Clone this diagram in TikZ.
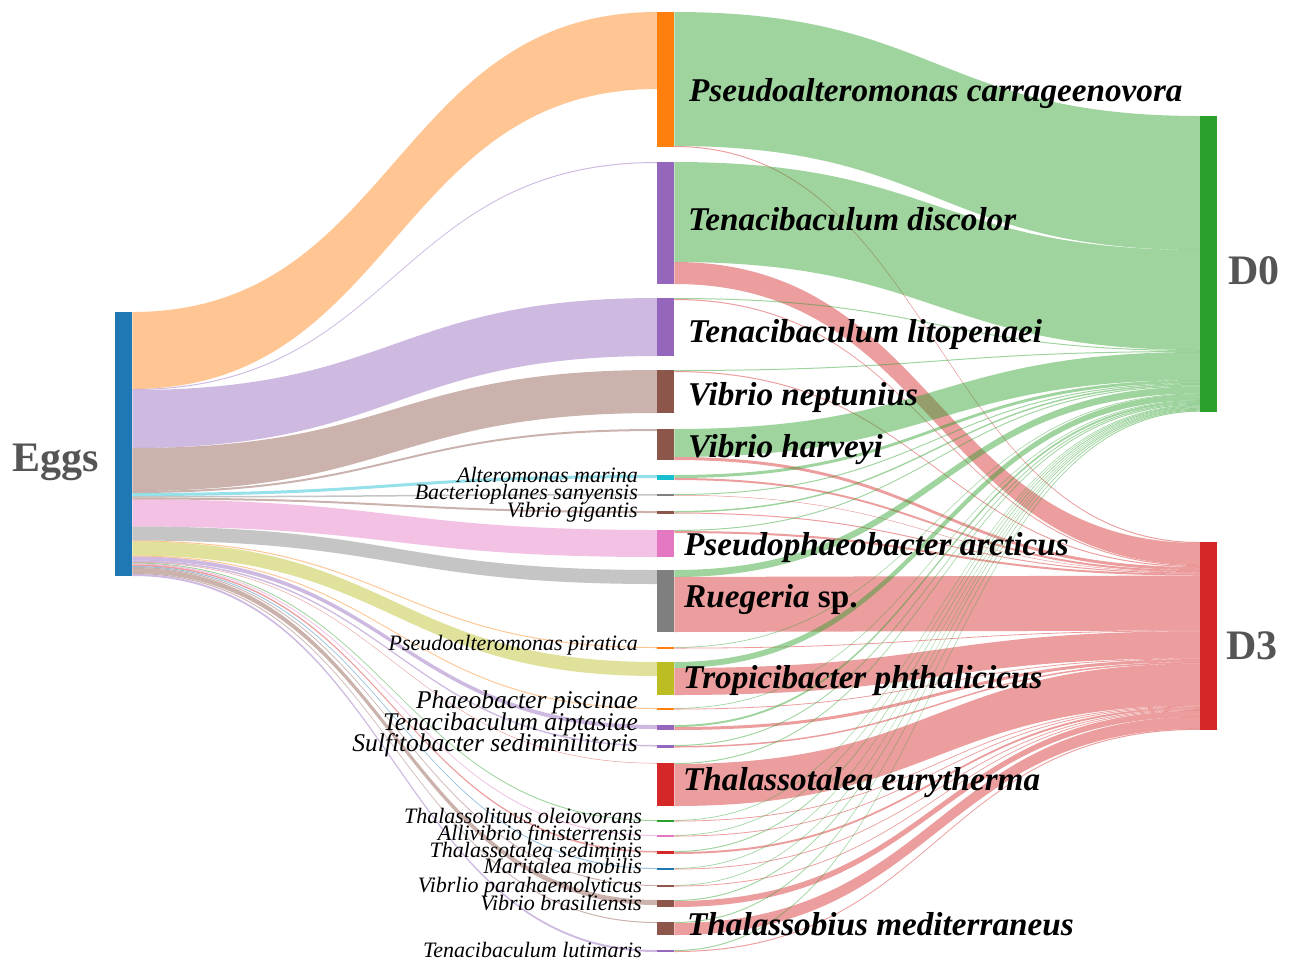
\documentclass[tikz,border=0pt]{standalone}
\usepackage{fontspec}
\setmainfont{Liberation Serif}

\definecolor{cblue}{HTML}{1F77B4}
\definecolor{corange}{HTML}{FF7F0E}
\definecolor{cgreen}{HTML}{2CA02C}
\definecolor{cred}{HTML}{D62728}
\definecolor{cpurple}{HTML}{9467BD}
\definecolor{cbrown}{HTML}{8C564B}
\definecolor{cpink}{HTML}{E377C2}
\definecolor{cgrey}{HTML}{7F7F7F}
\definecolor{colive}{HTML}{BCBD22}
\definecolor{ccyan}{HTML}{17BECF}
\definecolor{sidegrey}{HTML}{555555}

\tikzset{
  bar/.style={draw=none, inner sep=0pt, minimum width=17pt, anchor=north west},
  big/.style={anchor=base west, inner sep=0pt, font=\fontsize{33.2}{35}\selectfont\bfseries\itshape},
  small/.style={anchor=base east, inner sep=0pt, font=\fontsize{22}{24}\selectfont\itshape},
  medium/.style={anchor=base east, inner sep=0pt, font=\fontsize{25.5}{27}\selectfont\itshape},
  side/.style={anchor=base west, inner sep=0pt, text=sidegrey, font=\fontsize{42}{44}\selectfont\bfseries}
}

% band from #1 (top at y=#2) to #3 (top at y=#4), width #5, colour #6
\newcommand\flow[6]{%
  \fill[#6, fill opacity=.45]
    (#1.east |- 0,{#2}) .. controls +(263,0) and +(-263,0) .. (#3.west |- 0,{#4})
    -- ++(0,#5) .. controls +(-263,0) and +(263,0) .. (#1.east |- 0,{#2+#5}) -- cycle;}

\begin{document}
\begin{tikzpicture}[x=1pt,y=-1pt]
  \fill[white] (0,0) rectangle (1290,962);
  \useasboundingbox (0,0) rectangle (1290,962);

  \node[bar, fill=cblue, minimum height=264pt] (eggs) at (115,312) {};
  \node[bar, fill=cgreen, minimum height=295.7pt] (dzero) at (1200,116) {};
  \node[bar, fill=cred, minimum height=187.8pt] (dthree) at (1200,542) {};

  \gdef\eggy{312}\gdef\dzy{116}\gdef\dty{542}
  % name / colour / top / from eggs / to D0 / to D3
  \foreach \n/\cl/\yt/\ve/\vz/\vt in {
      pcar/corange/12/77/134/1, tdis/cpurple/162/1/100/22,
      tlit/cpurple/298/58/1/1, vnep/cbrown/370/43/1/1,
      vhar/cbrown/429/2/28/3, amar/ccyan/475/3/3/2,
      bsan/cgrey/494/1.5/1/.5, vgig/cbrown/511/2/1.5/1,
      parc/cpink/530/27/1/2, rueg/cgrey/570/14/7/55,
      ppir/corange/647/1/.7/.8, trop/colive/662/14/6/27,
      ppis/corange/708/1/.7/.8, tait/cpurple/725/4/2/3,
      ssed/cpurple/745/1.5/1/1.5, teur/cred/763/.5/1/42,
      tole/cgreen/820/1/.7/.8, afin/cpink/835/1/.7/.8,
      tsed/cred/851/1.5/1/2, mmob/cblue/868/1/.7/.8,
      vpar/cbrown/885/1/.7/.8, vbra/cbrown/900/5/1/6,
      tmed/cbrown/922/1/1/12, tlut/cpurple/950/2/1/1}
  {
    \pgfmathsetmacro\h{max(\ve,\vz+\vt)}
    \node[bar, fill=\cl, minimum height=\h pt] (\n) at (657,\yt) {};
    \flow{eggs}{\eggy}{\n}{\yt}{\ve}{\cl}
    \flow{\n}{\yt}{dzero}{\dzy}{\vz}{cgreen}
    \flow{\n}{\yt+\vz}{dthree}{\dty}{\vt}{cred}
    \pgfmathsetmacro\tmp{\eggy+\ve}\xdef\eggy{\tmp}
    \pgfmathsetmacro\tmp{\dzy+\vz}\xdef\dzy{\tmp}
    \pgfmathsetmacro\tmp{\dty+\vt}\xdef\dty{\tmp}
  }

  \node[side] (legg) at (12,471) {Eggs};
  \node[side] (ldzero) at (1228,284) {D0};
  \node[side] (ldthree) at (1226,659) {D3};

  \node[big] (lpcar) at (689,101) {Pseudoalteromonas carrageenovora};
  \node[big] (ltdis) at (688,230) {Tenacibaculum discolor};
  \node[big] (ltlit) at (688,342) {Tenacibaculum litopenaei};
  \node[big] (lvnep) at (688,405) {Vibrio neptunius};
  \node[big] (lvhar) at (688,457) {Vibrio harveyi};
  \node[big] (lparc) at (684,555) {Pseudophaeobacter arcticus};
  \node[big] (lrueg) at (684,607) {Ruegeria {\upshape sp.}};
  \node[big] (ltrop) at (683,688) {Tropicibacter phthalicicus};
  \node[big] (lteur) at (683,790) {Thalassotalea eurytherma};
  \node[big] (ltmed) at (687,935) {Thalassobius mediterraneus};

  \node[small] (lamar) at (638,482) {Alteromonas marina};
  \node[small] (lbsan) at (638,499) {Bacterioplanes sanyensis};
  \node[small] (lvgig) at (638,517) {Vibrio gigantis};
  \node[small] (lppir) at (638,650) {Pseudoalteromonas piratica};
  \node[medium] (lppis) at (638,708) {Phaeobacter piscinae};
  \node[medium] (ltait) at (638,730) {Tenacibaculum aiptasiae};
  \node[medium] (lssed) at (638,751) {Sulfitobacter sediminilitoris};
  \node[small] (ltole) at (642,823) {Thalassolituus oleiovorans};
  \node[small] (lafin) at (642,840) {Allivibrio finisterrensis};
  \node[small] (ltsed) at (642,857) {Thalassotalea sediminis};
  \node[small] (lmmob) at (642,873) {Maritalea mobilis};
  \node[small] (lvpar) at (642,892) {Vibrlio parahaemolyticus};
  \node[small] (lvbra) at (642,910) {Vibrio brasiliensis};
  \node[small] (ltlut) at (642,957) {Tenacibaculum lutimaris};
\end{tikzpicture}
\end{document}
